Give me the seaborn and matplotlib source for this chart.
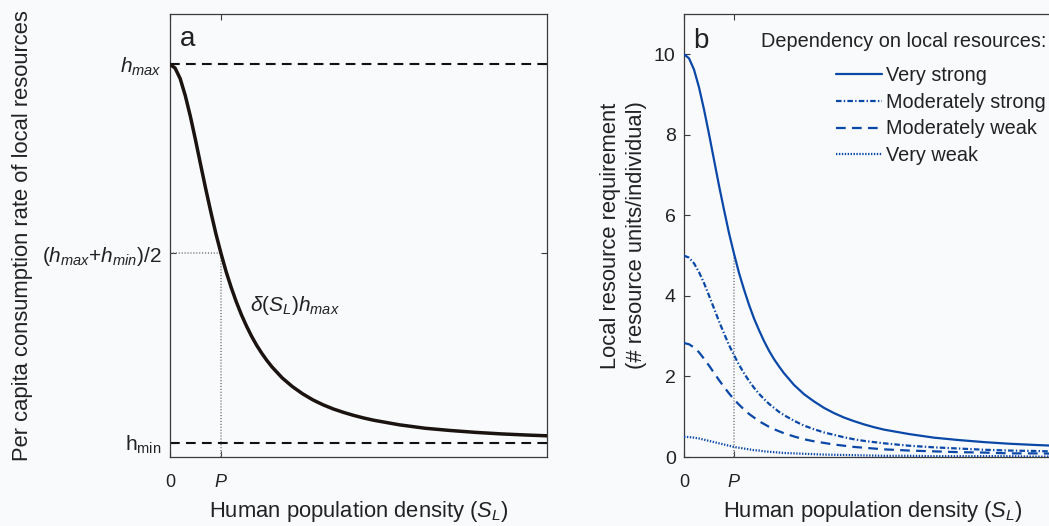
import matplotlib
matplotlib.use("Agg")
import matplotlib.pyplot as plt
from matplotlib.lines import Line2D
import pandas as pd
import seaborn as sns

# Human population density, in units of the half-saturation density P
density = [0.0, 0.1, 0.2, 0.3, 0.4, 0.5, 0.6, 0.7, 0.8, 0.9, 1.0,
           1.1, 1.2, 1.3, 1.4, 1.5, 1.6, 1.7, 1.8, 1.9, 2.0,
           2.2, 2.4, 2.6, 2.8, 3.0, 3.2, 3.4, 3.6, 3.8, 4.0,
           4.5, 5.0, 5.5, 6.0, 6.5, 7.0, 7.6]

# Panel a: per capita consumption rate, scaled so that h_min = 0 and h_max = 1
consumption = [1.000, 0.990, 0.962, 0.917, 0.862, 0.800, 0.735, 0.671, 0.610, 0.552, 0.500,
               0.452, 0.410, 0.372, 0.338, 0.308, 0.281, 0.257, 0.236, 0.217, 0.200,
               0.171, 0.148, 0.129, 0.113, 0.100, 0.089, 0.080, 0.072, 0.065, 0.059,
               0.047, 0.038, 0.032, 0.027, 0.023, 0.020, 0.017]
h_min, h_max = 0.0, 1.0
h_half = 0.5
P = 1.0

# Panel b: local resource requirement (# resource units / individual)
very_strong = [10.00, 9.90, 9.62, 9.18, 8.63, 8.02, 7.38, 6.74, 6.14, 5.56, 5.05,
               4.57, 4.16, 3.78, 3.44, 3.15, 2.88, 2.64, 2.43, 2.25, 2.08,
               1.79, 1.56, 1.38, 1.22, 1.09, 0.98, 0.89, 0.81, 0.74, 0.68,
               0.57, 0.48, 0.42, 0.37, 0.33, 0.30, 0.27]
mod_strong = [5.00, 4.95, 4.81, 4.59, 4.32, 4.01, 3.69, 3.37, 3.07, 2.78, 2.53,
              2.29, 2.08, 1.89, 1.72, 1.57, 1.44, 1.32, 1.22, 1.12, 1.04,
              0.90, 0.78, 0.69, 0.61, 0.55, 0.49, 0.44, 0.40, 0.37, 0.34,
              0.28, 0.24, 0.21, 0.18, 0.16, 0.15, 0.13]
mod_weak = [2.83, 2.80, 2.72, 2.60, 2.44, 2.27, 2.09, 1.91, 1.74, 1.58, 1.43,
            1.30, 1.18, 1.07, 0.98, 0.89, 0.82, 0.75, 0.69, 0.64, 0.59,
            0.51, 0.44, 0.39, 0.35, 0.31, 0.28, 0.25, 0.23, 0.21, 0.19,
            0.16, 0.14, 0.12, 0.11, 0.09, 0.09, 0.08]
very_weak = [0.50, 0.495, 0.48, 0.46, 0.43, 0.40, 0.37, 0.34, 0.31, 0.28, 0.25,
             0.23, 0.21, 0.19, 0.17, 0.16, 0.14, 0.13, 0.12, 0.11, 0.10,
             0.09, 0.08, 0.07, 0.06, 0.055, 0.05, 0.045, 0.04, 0.035, 0.03,
             0.03, 0.02, 0.02, 0.02, 0.02, 0.01, 0.01]

dependency_labels = ["Very strong", "Moderately strong", "Moderately weak", "Very weak"]
b_yticks = [0, 2, 4, 6, 8, 10]

BG = "#f9fafc"
BLUE = "#0a48a8"
CURVE = "#1b1310"

sns.set_theme(style="ticks")
plt.rcParams.update({
    "font.family": ["Liberation Sans", "DejaVu Sans"],
    "mathtext.fontset": "custom",
    "mathtext.rm": "Liberation Sans",
    "mathtext.it": "Liberation Sans:italic",
    "mathtext.bf": "Liberation Sans:bold",
    "lines.scale_dashes": False,
    "axes.edgecolor": "#3a3a3a",
    "axes.linewidth": 0.9,
    "xtick.direction": "in",
    "ytick.direction": "in",
    "xtick.top": True,
    "ytick.right": True,
    "xtick.major.size": 4,
    "ytick.major.size": 4,
    "xtick.major.width": 0.8,
    "ytick.major.width": 0.8,
    "xtick.color": "#3a3a3a",
    "ytick.color": "#3a3a3a",
    "xtick.labelcolor": "#222222",
    "ytick.labelcolor": "#222222",
    "text.color": "#222222",
    "axes.labelcolor": "#222222",
})

W, H = 1049, 526
fig = plt.figure(figsize=(W / 100, H / 100), dpi=100, facecolor=BG)
ax_a = fig.add_axes([170 / W, (H - 457) / H, 377 / W, 443 / H], facecolor=BG)
ax_b = fig.add_axes([684 / W, (H - 457) / H, 377 / W, 443 / H], facecolor=BG)

TICK_FS = 13
LABEL_FS = 15.8

# ---------------- panel a ----------------
ax_a.set_xlim(0, 7.39)
ax_a.set_ylim(-0.038, 1.133)
dash_long = (0, (7, 4.5))
dots = (0, (0.8, 1.3))
ax_a.axhline(h_max, color="#111111", lw=1.5, linestyle=dash_long, zorder=2)
ax_a.axhline(h_min, color="#111111", lw=1.5, linestyle=dash_long, zorder=2)
ax_a.plot([0, P], [h_half, h_half], color="#7a7a7a", lw=1.1, linestyle=dots, zorder=1)
ax_a.plot([P, P], [-0.038, h_half], color="#7a7a7a", lw=1.1, linestyle=dots, zorder=1)
sns.lineplot(x=density, y=consumption, ax=ax_a, color=CURVE, linewidth=2.5,
             errorbar=None, zorder=3)

ax_a.set_xticks([0, P])
ax_a.set_xticklabels(["0", "$P$"], fontsize=TICK_FS)
ax_a.set_yticks([h_min, h_half, h_max])
ax_a.set_yticklabels([r"h$_{\mathrm{min}}$", r"$(h_{max}$+$h_{min})/2$", r"$h_{max}$"],
                     fontsize=15)
ax_a.tick_params(axis="x", pad=12)
ax_a.tick_params(axis="y", pad=6)
ax_a.set_xlabel(r"Human population density $(S_L)$", fontsize=LABEL_FS, labelpad=6)
ax_a.set_ylabel("Per capita consumption rate of local resources", fontsize=LABEL_FS)
ax_a.yaxis.set_label_coords(-0.363, 0.5)
ax_a.text(1.57, 0.348, r"$\delta(S_L)h_{max}$", fontsize=15, ha="left", va="baseline")

# ---------------- panel b ----------------
frames = []
for label, values in zip(dependency_labels, [very_strong, mod_strong, mod_weak, very_weak]):
    frames.append(pd.DataFrame({"density": density, "requirement": values, "dependency": label}))
df_b = pd.concat(frames, ignore_index=True)

dash_styles = {
    "Very strong": "",
    "Moderately strong": (4.0, 1.6, 1.0, 1.6),
    "Moderately weak": (7.0, 4.5),
    "Very weak": (1.0, 1.1),
}
ax_b.set_xlim(0, 7.54)
ax_b.set_ylim(0, 11)
p_idx = density.index(P)
ax_b.plot([P, P], [0, very_strong[p_idx]], color="#7a7a7a", lw=1.1, linestyle=dots, zorder=1)
sns.lineplot(data=df_b, x="density", y="requirement", hue="dependency", style="dependency",
             hue_order=dependency_labels, style_order=dependency_labels,
             palette=[BLUE] * 4, dashes=dash_styles, linewidth=1.6,
             errorbar=None, legend=False, ax=ax_b, zorder=3)

ax_b.set_xticks([0, P])
ax_b.set_xticklabels(["0", "$P$"], fontsize=TICK_FS)
ax_b.set_yticks(b_yticks)
ax_b.set_yticklabels([str(v) for v in b_yticks], fontsize=TICK_FS + 1)
ax_b.tick_params(axis="x", pad=12)
ax_b.tick_params(axis="y", pad=6)
ax_b.set_xlabel(r"Human population density $(S_L)$", fontsize=LABEL_FS, labelpad=6)
ax_b.set_ylabel("Local resource requirement\n(# resource units/individual)",
                fontsize=LABEL_FS, linespacing=1.3)
ax_b.yaxis.set_label_coords(-0.098, 0.5)

handles = []
for label in dependency_labels:
    d = dash_styles[label]
    ls = "-" if d == "" else (0, d)
    handles.append(Line2D([], [], color=BLUE, lw=1.6, linestyle=ls))
fig.text(1046 / W, 1 - 47 / H, "Dependency on local resources:", fontsize=14.3,
         ha="right", va="baseline")
ax_b.legend(handles, dependency_labels,
            loc="upper left", bbox_to_anchor=(836 / W, 1 - 66 / H),
            bbox_transform=fig.transFigure, frameon=False,
            fontsize=14.3, handlelength=2.3,
            handletextpad=0.2, labelspacing=0.39, borderpad=0, borderaxespad=0)

# panel letters
fig.text(180 / W, 1 - 46 / H, "a", fontsize=20, ha="left", va="baseline")
fig.text(693 / W, 1 - 48 / H, "b", fontsize=20, ha="left", va="baseline")

fig.savefig("out.png", dpi=100, facecolor=BG)
